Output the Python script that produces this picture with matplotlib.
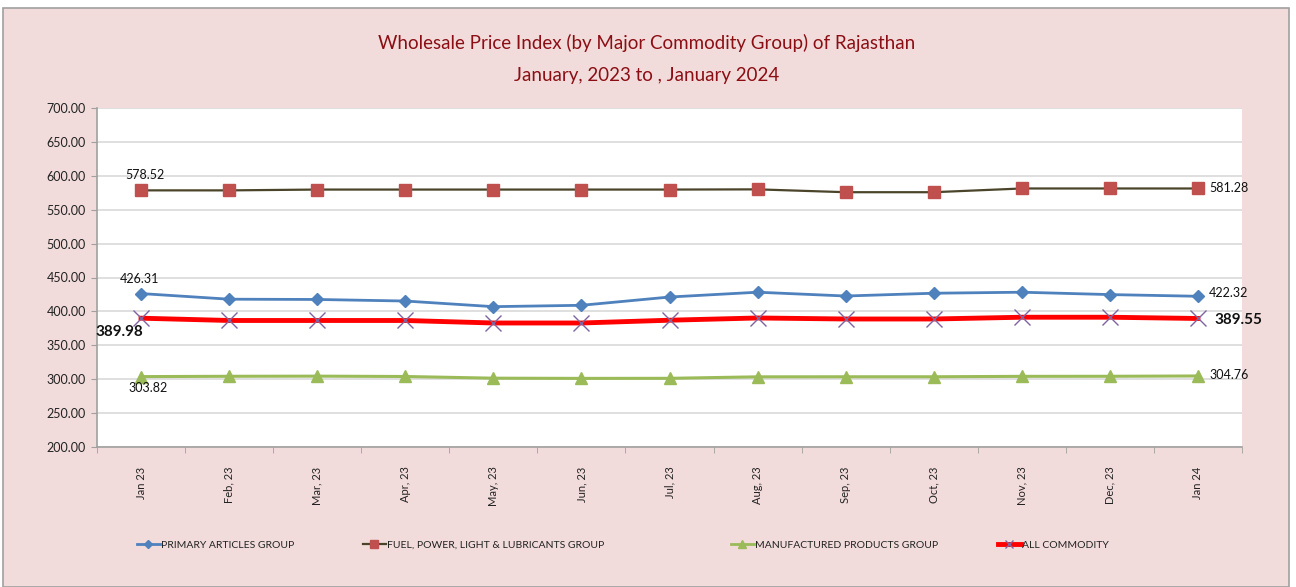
import matplotlib
matplotlib.use("Agg")
import matplotlib.pyplot as plt
from matplotlib.patches import Rectangle
from matplotlib.lines import Line2D

months = ["Jan 23", "Feb, 23", "Mar, 23", "Apr, 23", "May, 23", "Jun, 23", "Jul, 23",
          "Aug, 23", "Sep, 23", "Oct, 23", "Nov, 23", "Dec, 23", "Jan 24"]

primary = [426.31, 418.0, 417.6, 415.3, 407.0, 409.0, 421.2, 428.3, 422.7, 426.8, 428.3, 424.8, 422.32]
fuel = [578.52, 578.5, 579.7, 579.7, 579.7, 579.7, 579.7, 580.0, 575.8, 575.8, 581.3, 581.3, 581.28]
manufactured = [303.82, 304.3, 304.5, 304.0, 301.5, 301.2, 301.3, 303.5, 303.6, 303.6, 304.2, 304.3, 304.76]
all_commodity = [389.98, 386.6, 386.6, 386.6, 382.9, 382.9, 387.0, 390.3, 388.8, 388.8, 391.4, 391.4, 389.55]

y_ticks = [200, 250, 300, 350, 400, 450, 500, 550, 600, 650, 700]

FONT = ["Lato", "DejaVu Sans"]
NARROW = ["Liberation Sans Narrow", "Lato", "DejaVu Sans"]
plt.rcParams["font.family"] = FONT

W, H = 1296, 587
fig = plt.figure(figsize=(W / 100, H / 100), dpi=100, facecolor="white")

# outer pink chart area
fig.patches.append(Rectangle((3 / W, 0), (1289 - 3) / W, 1 - 8 / H, transform=fig.transFigure,
                             facecolor="#F2DCDB", edgecolor="#A0A0A0", linewidth=1.2, zorder=-5))

ax = fig.add_axes([97 / W, 1 - 447 / H, (1242 - 97) / W, (447 - 108) / H])
ax.set_facecolor("white")

x = list(range(len(months)))

ax.plot(x, primary, color="#4F81BD", lw=2, marker="D", markersize=6,
        markerfacecolor="#4F81BD", markeredgecolor="#4F81BD", zorder=4)
ax.plot(x, fuel, color="#4A452A", lw=1.6, marker="s", markersize=8,
        markerfacecolor="#C0504D", markeredgecolor="#C0504D", zorder=4)
ax.plot(x, manufactured, color="#9BBB59", lw=2.2, marker="^", markersize=9,
        markerfacecolor="#9BBB59", markeredgecolor="#9BBB59", zorder=4)
ax.plot(x, all_commodity, color="#FF0000", lw=3.5, zorder=4)
ax.plot(x, all_commodity, ls="none", marker="x", markersize=11, markeredgewidth=1,
        color="#8064A2", zorder=5)

ax.set_xlim(-0.5, len(months) - 0.5)
ax.set_ylim(200, 700)
ax.set_yticks(y_ticks)
ax.set_yticklabels([f"{v:.2f}" for v in y_ticks], fontsize=9, color="#222222")
ax.yaxis.grid(True, color="#D9D9D9", lw=1.2)
ax.set_axisbelow(True)

ax.set_xticks(x)
ax.set_xticklabels(months, rotation=90, fontsize=8, family=NARROW, color="#222222")
ax.set_xticks([i - 0.5 for i in range(len(months) + 1)], minor=True)
ax.tick_params(axis="x", which="major", length=0, pad=14)
ax.tick_params(axis="x", which="minor", length=4, color="#A0A0A0")
ax.tick_params(axis="y", length=4, color="#A0A0A0", pad=4)
for lbl in ax.get_xticklabels():
    lbl.set_va("top")

for side in ["top", "right"]:
    ax.spines[side].set_visible(False)
for side in ["left", "bottom"]:
    ax.spines[side].set_color("#A0A0A0")
    ax.spines[side].set_linewidth(1.2)

# data labels at first and last points
lab_kw = dict(fontsize=9, color="#111111", zorder=6)
ax.annotate(f"{fuel[0]:.2f}", (0, fuel[0]), xytext=(3, 7), textcoords="offset points",
            ha="center", va="bottom", **lab_kw)
ax.annotate(f"{primary[0]:.2f}", (0, primary[0]), xytext=(-1, 6), textcoords="offset points",
            ha="center", va="bottom", **lab_kw)
ax.annotate(f"{manufactured[0]:.2f}", (0, manufactured[0]), xytext=(5, -4), textcoords="offset points",
            ha="center", va="top", **lab_kw)
ax.annotate(f"{all_commodity[0]:.2f}", (0, all_commodity[0]), xytext=(-33, -10), textcoords="offset points",
            ha="left", va="center", fontsize=11, fontweight="bold", color="#111111", zorder=6,
            annotation_clip=False)
n = len(months) - 1
ax.annotate(f"{fuel[n]:.2f}", (n, fuel[n]), xytext=(8, 0), textcoords="offset points",
            ha="left", va="center", annotation_clip=False, **lab_kw)
ax.annotate(f"{primary[n]:.2f}", (n, primary[n]), xytext=(8, 2), textcoords="offset points",
            ha="left", va="center", annotation_clip=False, **lab_kw)
ax.annotate(f"{manufactured[n]:.2f}", (n, manufactured[n]), xytext=(8, 1), textcoords="offset points",
            ha="left", va="center", annotation_clip=False, **lab_kw)
ax.annotate(f"{all_commodity[n]:.2f}", (n, all_commodity[n]), xytext=(12, -1), textcoords="offset points",
            ha="left", va="center", fontsize=11, fontweight="bold", color="#111111",
            annotation_clip=False, zorder=6)

# title
fig.text(647 / W, 1 - 43 / H, "Wholesale Price Index (by Major Commodity Group) of Rajasthan",
         ha="center", va="center", fontsize=13.5, color="#8B0E14")
fig.text(647 / W, 1 - 75 / H, "January, 2023 to , January 2024",
         ha="center", va="center", fontsize=13.5, color="#8B0E14")

# legend entries placed individually
handles = [
    Line2D([], [], color="#4F81BD", lw=2, marker="D", markersize=4,
           markerfacecolor="#4F81BD", markeredgecolor="#4F81BD"),
    Line2D([], [], color="#4A452A", lw=1.6, marker="s", markersize=6,
           markerfacecolor="#C0504D", markeredgecolor="#C0504D"),
    Line2D([], [], color="#9BBB59", lw=2, marker="^", markersize=6,
           markerfacecolor="#9BBB59", markeredgecolor="#9BBB59"),
    Line2D([], [], color="#FF0000", lw=3.5, marker="x", markersize=6,
           markeredgecolor="#8064A2", markeredgewidth=1),
]
names = ["PRIMARY ARTICLES GROUP", "FUEL, POWER, LIGHT & LUBRICANTS GROUP",
         "MANUFACTURED PRODUCTS GROUP", "ALL COMMODITY"]
starts = [137, 363, 731, 998]
for h, name, xs in zip(handles, names, starts):
    leg = fig.legend([h], [name], loc="center left", bbox_to_anchor=(xs / W, 1 - 545 / H),
                     frameon=False, handlelength=2.2, handletextpad=0.1, borderpad=0,
                     borderaxespad=0, prop={"family": NARROW, "size": 7.5})
    for t in leg.get_texts():
        t.set_color("#222222")

fig.savefig("out.png", dpi=100, facecolor=fig.get_facecolor())
